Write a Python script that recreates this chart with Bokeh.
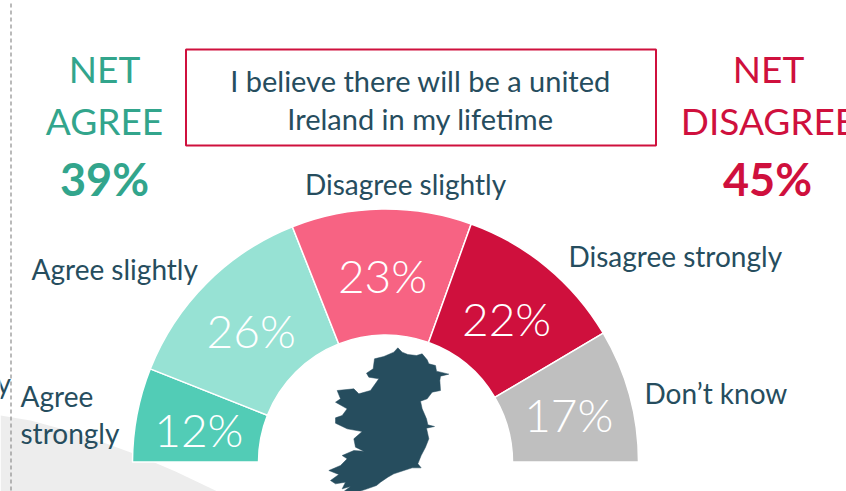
from math import radians, cos, sin
from bokeh.plotting import figure
from bokeh.embed import file_html
from bokeh.resources import INLINE
from bokeh.core.properties import value
from bokeh.models import ColumnDataSource

categories = ["Agree strongly", "Agree slightly", "Disagree slightly", "Disagree strongly", "Don\u2019t know"]
shares = [12, 26, 23, 22, 17]
net_agree = 39
net_disagree = 45
title_lines = ["I believe there will be a united", "Ireland in my lifetime"]

seg_colors = ["#52ccb6", "#97e2d4", "#f76383", "#cf103d", "#bfbfbf"]
TEAL, RED, INK = "#32a58c", "#cf103d", "#264d5e"
W, H = 846, 491
CX, CY, R_OUT, R_IN = 385, 461.5, 253, 127
LIGHT = "Lato Light"
REG = "Lato"

ireland_zoom = [(292,52),(305,65),(322,72),(348,75),(365,70),(380,88),(385,100),(405,105),(408,122),(445,131),
 (420,137),(418,150),(420,180),(395,185),(380,205),(360,212),(365,235),(378,265),(382,283),(402,288),(378,293),
 (385,325),(375,350),(362,375),(352,400),(362,412),(335,412),(310,420),(280,430),(262,440),(240,455),(228,465),
 (200,475),(175,483),(130,483),(150,468),(125,475),(135,455),(105,460),(90,450),(115,432),(85,420),(120,405),
 (140,385),(125,375),(160,360),(190,362),(165,350),(160,325),(185,303),(140,295),(105,278),(105,262),(125,255),
 (140,235),(105,215),(120,205),(110,180),(160,175),(175,190),(210,180),(235,145),(205,140),(198,128),(218,115),
 (222,85),(250,78),(280,65)]
corner_shape = [(0,415),(30,420),(67,430),(100,441),(133,453),(175,471),(217,491),(0,491)]

def Y(py):
    return H - py

p = figure(width=W, height=H, x_range=(0, W), y_range=(0, H), output_backend="svg",
           toolbar_location=None, min_border=0, outline_line_color=None, background_fill_color="white")
p.axis.visible = False
p.grid.visible = False
p.styles = {"position": "absolute", "left": "0", "top": "0"}

p.patch([a for a, _ in corner_shape], [Y(b) for _, b in corner_shape], fill_color="#ededed", line_color=None)
p.line([10.5, 10.5], [Y(3), Y(491)], line_color="#8c8c8c", line_width=1.2, line_dash="4 3")

# wedges
total = sum(shares)
cum = [sum(shares[:i]) for i in range(len(shares) + 1)]
start = [radians(180 - 180 * c / total) for c in cum[:-1]]
end = [radians(180 - 180 * c / total) for c in cum[1:]]
src = ColumnDataSource(dict(s=start, e=end, c=seg_colors))
p.annular_wedge(x=CX, y=Y(CY), inner_radius=R_IN, outer_radius=R_OUT, start_angle="s", end_angle="e",
                direction="clock", fill_color="c", line_color="white", line_width=1.5, source=src)

# percentage labels
for i, v in enumerate(shares):
    mid = (start[i] + end[i]) / 2
    p.text([CX + 190 * cos(mid)], [Y(CY) + 190 * sin(mid) - 3], text=[f"{v}%"], text_color="white",
           text_font=value(LIGHT), text_font_size="46px", text_align="center", text_baseline="middle")

def label(x, y, s, color=INK, size="28px", font=REG, align="left", style="normal"):
    p.text([x], [Y(y)], text=[s], text_color=color, text_font=value(font), text_font_size=size,
           text_align=align, text_baseline="middle", text_font_style=style)

label(405, 183, categories[2], align="center")
label(31, 268, categories[1])
label(568, 255, categories[3])
label(644, 392, categories[4])
a, b = categories[0].split(" ")
label(20, 395, a)
label(20, 432, b)
label(-4, 382, "y")

label(104, 68, "NET", TEAL, "37px", align="center")
label(104, 120, "AGREE", TEAL, "37px", align="center")
label(104, 178, f"{net_agree}%", TEAL, "45px", align="center", style="bold")
label(768, 68, "NET", RED, "37px", align="center")
label(768, 120, "DISAGREE", RED, "37px", align="center")
label(767, 178, f"{net_disagree}%", RED, "45px", align="center", style="bold")

# statement box
p.quad(left=[185.5], right=[655.5], top=[Y(49)], bottom=[Y(145)], fill_color="white",
       line_color=RED, line_width=2)
label(420, 80, title_lines[0], size="29px", align="center")
label(420, 118, title_lines[1], size="29px", align="center")

# island silhouette
p.patch([300 + a / 3 for a, _ in ireland_zoom], [Y(330 + b / 3) for _, b in ireland_zoom],
        fill_color=INK, line_color=INK, line_width=0.5)

open("out.html", "w").write(file_html(p, INLINE))
